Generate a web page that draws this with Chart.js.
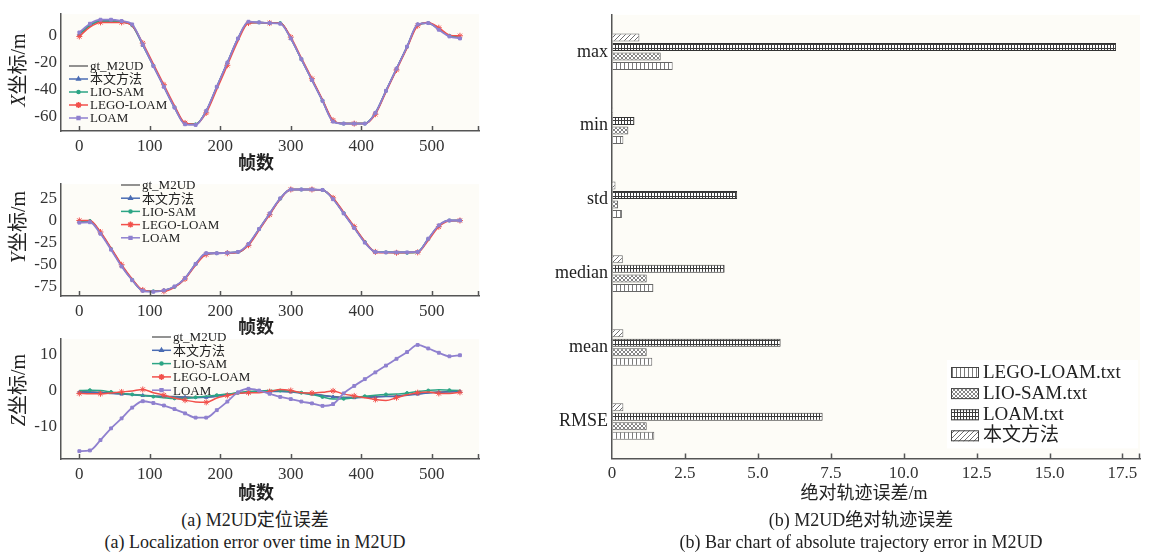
<!DOCTYPE html>
<html>
<head>
<meta charset="utf-8">
<script src="https://cdn.jsdelivr.net/npm/chart.js@4.4.1/dist/chart.umd.min.js"></script>
<style>
  body { margin: 0; background: #fff; width: 1152px; height: 554px; position: relative; overflow: hidden;
         font-family: 'Liberation Serif', 'Noto Sans CJK SC', serif; color: #222; }
  canvas { position: absolute; }
  .t { position: absolute; white-space: nowrap; line-height: 1; }
  .cap { font-size: 18px; transform: translate(-50%, -50%); }
  .ytitle { font-size: 20px; transform: translate(-50%, -50%) rotate(-90deg); }
  .xtitle { font-size: 18px; font-weight: bold; transform: translate(-50%, -50%); }
  .btitle { font-size: 18px; transform: translate(-50%, -50%); }
</style>
</head>
<body>
<canvas id="cx" width="540" height="175" style="left:0;top:0"></canvas>
<canvas id="cy" width="540" height="170" style="left:0;top:170px"></canvas>
<canvas id="cz" width="540" height="180" style="left:0;top:325px"></canvas>
<canvas id="cb" width="612" height="505" style="left:540px;top:0"></canvas>

<div class="t ytitle" style="left:18px;top:70px"><i>X</i>坐标/m</div>
<div class="t ytitle" style="left:18px;top:227px"><i>Y</i>坐标/m</div>
<div class="t ytitle" style="left:18px;top:390px"><i>Z</i>坐标/m</div>
<div class="t xtitle" style="left:256px;top:163px">帧数</div>
<div class="t xtitle" style="left:256px;top:327px">帧数</div>
<div class="t xtitle" style="left:256px;top:493px">帧数</div>
<div class="t btitle" style="left:864px;top:493px">绝对轨迹误差/m</div>
<div class="t cap" style="left:255px;top:520px">(a) M2UD定位误差</div>
<div class="t cap" style="left:255px;top:542px">(a) Localization error over time in M2UD</div>
<div class="t cap" style="left:861px;top:520px">(b) M2UD绝对轨迹误差</div>
<div class="t cap" style="left:861px;top:542px">(b) Bar chart of absolute trajectory error in M2UD</div>

<script>
const FONT = "'Liberation Serif', 'Noto Sans CJK SC', serif";
Chart.defaults.font.family = FONT;
Chart.defaults.color = '#333';

// frame index shared by all trajectory series
const frames = [0, 15, 30, 45, 60, 75, 90, 105, 120, 135, 150, 165, 180, 195, 210, 225, 240, 255,
  270, 285, 300, 315, 330, 345, 360, 375, 390, 405, 420, 435, 450, 465, 480, 495, 510, 525, 540];
const frameTicks = [0, 100, 200, 300, 400, 500];

// X coordinate
const xGt   = [1.5, 8, 11, 11, 10.5, 8, -6.5, -22, -37.5, -53, -65.5, -66, -56.5, -38.5, -20.5, -2.5, 10, 10, 9.5, 9.5, -1.8, -17.3, -32.7, -48.2, -63.5, -65.5, -65.5, -65.5, -57.8, -41.3, -24.8, -8.3, 8, 9.5, 5, 0, -1.5];
const xOurs = [1, 7.5, 11, 11, 10.5, 7.5, -7, -22.5, -38, -53.5, -65.5, -66, -56, -38, -20, -2, 10, 10, 9.5, 9.5, -2, -17.5, -33, -48.5, -63.8, -65.5, -65.5, -65.5, -57.5, -41, -24.5, -8, 8.3, 9.5, 5, 0, -1.5];
const xLio  = [1.2, 7.8, 11, 11, 10.3, 7.8, -6.8, -22.2, -37.8, -53.2, -65.5, -66, -56.2, -38.2, -20.2, -2.2, 10, 10, 9.5, 9.5, -1.9, -17.4, -32.8, -48.3, -63.6, -65.5, -65.5, -65.5, -57.6, -41.2, -24.6, -8.2, 8.1, 9.5, 5, 0, -1.5];
const xLego = [-0.5, 6.5, 10, 10, 10, 7.5, -5.5, -21, -36.5, -52, -65, -66, -57.5, -40, -22, -4, 9.5, 10, 9.5, 9.5, -1, -16.5, -32, -47.5, -63, -65.5, -65.5, -65.5, -58.5, -42, -25.5, -9, 7.5, 10, 6, 0.5, 0];
const xLoam = [2.5, 9, 12, 12, 11, 8.5, -6.5, -22.5, -38, -53.5, -66, -66.5, -56, -38, -20, -2, 10.5, 10, 9.5, 9, -2, -17.5, -33, -48.5, -64, -65.5, -65.5, -65.5, -57.5, -41, -24.5, -8, 8.5, 9.5, 4.5, -0.5, -2];

// Y coordinate
const yGt   = [-2, -1, -14, -32, -51, -67, -79, -80, -79, -75, -65.5, -49.5, -37.5, -37, -36.5, -36, -27, -9.8, 7.5, 24.7, 35, 35, 35, 34.5, 24.7, 8.4, -7.9, -24.2, -35.5, -36, -36, -36, -35.5, -21, -6, 0, 0];
const yOurs = [-1, -0.5, -14, -32, -51, -67, -79, -80, -79, -75, -65, -49, -37.5, -37, -36.5, -36, -27, -10, 7.5, 24.5, 35, 35, 35, 34.5, 24.5, 8.2, -8, -24.3, -35.5, -36, -36, -36, -35.5, -21, -6, 0, 0];
const yLio  = [-1, -0.5, -14, -32, -51, -67, -79, -80, -79, -75, -65.5, -49.5, -37.5, -37, -36.5, -35.5, -27, -9.8, 7.5, 24.7, 35, 35, 35, 34.5, 24.7, 8.4, -7.9, -24.2, -35.5, -36, -36.5, -36.5, -35.5, -21, -6, 0, 0];
const yLego = [0, 0, -13, -31, -50, -66, -78.5, -80, -80, -75.5, -66, -50.5, -38.5, -37, -37, -36, -28, -11, 6.5, 24, 35, 35, 35, 34.5, 25.5, 9.5, -7, -23.5, -35.5, -36.5, -36.5, -36.5, -36, -22.5, -7, -0.5, 0];
const yLoam = [-2.5, -2, -15, -33, -52, -67.5, -79.5, -80.5, -79, -74.5, -65, -49, -37, -37, -36.5, -35.5, -26.5, -9.5, 8, 25, 35, 35, 35, 34.5, 24, 8, -8.5, -25, -35.5, -36, -36, -36, -35.5, -20.5, -5.5, 0, 0];

// Z coordinate
const zGt   = [-0.3, -0.4, -0.5, -0.7, -0.9, -1.1, -1.3, -1.5, -1.6, -1.7, -1.8, -1.9, -1.8, -1.5, -1.1, -0.7, -0.4, -0.2, -0.2, -0.2, -0.3, -0.6, -0.9, -1.3, -1.7, -1.9, -1.9, -1.8, -1.7, -1.6, -1.5, -1.2, -0.9, -0.6, -0.4, -0.3, -0.2];
const zOurs = [-0.5, -0.5, -0.6, -0.8, -1, -1.2, -1.4, -1.6, -1.7, -1.8, -1.9, -2, -1.9, -1.6, -1.2, -0.8, -0.5, -0.3, -0.3, -0.3, -0.4, -0.7, -1, -1.4, -1.8, -2, -2, -1.9, -1.8, -1.7, -1.6, -1.3, -1, -0.7, -0.5, -0.4, -0.3];
const zLio  = [0, 0.1, 0, -0.4, -0.8, -1.1, -1.4, -1.7, -2, -2.2, -2.2, -1.9, -1.6, -1.3, -1, -0.6, -0.3, -0.1, 0, 0, -0.2, -0.6, -1.1, -1.8, -2.4, -2.3, -2, -1.6, -1.3, -1.1, -1, -0.7, -0.3, 0, 0.2, 0.1, 0];
const zLego = [-0.8, -0.9, -0.9, -0.7, -0.4, -0.1, 0.3, -0.6, -1.3, -2.1, -2.7, -3.2, -3.3, -2.1, -1.4, -0.8, -0.6, -0.6, -0.3, 0.3, 0, -0.6, -0.7, -0.5, -0.1, -1, -1.5, -2, -2.5, -2.8, -2, -1.2, -0.6, -0.4, -0.8, -0.8, -0.5];
const zLoam = [-17, -16.8, -13.9, -10.6, -7.8, -4.8, -3, -3.5, -4.2, -5.2, -6.4, -7.6, -7.6, -5.5, -3.1, -0.5, 0.5, 0, -0.9, -1.8, -2.4, -3.1, -3.6, -4.3, -3.8, -0.8, 1.3, 3.2, 5.1, 7, 8.9, 10.8, 12.8, 11.8, 10.6, 9.6, 9.9];

// absolute trajectory error
const metrics = ['max', 'min', 'std', 'median', 'mean', 'RMSE'];
const ateOurs = [0.94, 0.04, 0.12, 0.37, 0.39, 0.39];
const ateLoam = [17.28, 0.77, 4.29, 3.86, 5.78, 7.22];
const ateLio  = [1.67, 0.56, 0.21, 1.19, 1.19, 1.19];
const ateLego = [2.08, 0.39, 0.34, 1.42, 1.38, 1.45];
const ateTicks = [0, 2.5, 5, 7.5, 10, 12.5, 15, 17.5];

const AXIS = '#555';

const plotBg = {
  id: 'plotBg',
  beforeDraw(chart) {
    const { ctx, chartArea: a } = chart;
    ctx.save();
    ctx.fillStyle = '#fdfcf7';
    ctx.fillRect(a.left, a.top, a.right - a.left, a.bottom - a.top);
    ctx.restore();
  }
};

// tick marks point up into the plot, plus a cap at the right end
const innerTicks = {
  id: 'innerTicks',
  afterDraw(chart) {
    const { ctx, chartArea: a } = chart;
    const sx = chart.scales.x;
    ctx.save();
    ctx.strokeStyle = AXIS;
    ctx.lineWidth = 1.5;
    ctx.beginPath();
    sx.ticks.forEach(t => {
      const px = Math.round(sx.getPixelForValue(t.value)) + 0.5;
      if (px < a.left + 2) return;
      ctx.moveTo(px, a.bottom);
      ctx.lineTo(px, a.bottom - 5);
    });
    ctx.moveTo(a.right - 0.5, a.bottom);
    ctx.lineTo(a.right - 0.5, a.bottom - 5);
    ctx.stroke();
    ctx.restore();
  }
};

const lineLegend = {
  id: 'lineLegend',
  afterDraw(chart, args, opts) {
    const { ctx } = chart;
    ctx.save();
    ctx.font = '13px ' + FONT;
    ctx.textBaseline = 'middle';
    chart.data.datasets.forEach((ds, i) => {
      const y = opts.y + i * opts.step;
      ctx.strokeStyle = ds.borderColor;
      ctx.fillStyle = ds.borderColor;
      ctx.lineWidth = 1.5;
      ctx.beginPath();
      ctx.moveTo(opts.x, y);
      ctx.lineTo(opts.x + 19, y);
      ctx.stroke();
      if (ds.markerSize) {
        Chart.helpers.drawPoint(ctx, { pointStyle: ds.pointStyle, rotation: 0, radius: ds.markerSize, borderWidth: 1 }, opts.x + 9.5, y);
      }
      ctx.fillStyle = '#222';
      ctx.fillText(ds.label, opts.x + 21, y + 1);
    });
    ctx.restore();
  }
};

function series(label, values, color, style, size, every, phase, order, width) {
  return {
    label: label,
    data: frames.map((f, k) => ({ x: f, y: values[k] })),
    borderColor: color,
    backgroundColor: color,
    pointBorderColor: color,
    pointBackgroundColor: color,
    borderWidth: width,
    pointStyle: style,
    markerSize: size,
    pointRadius: ctx => (size && ctx.dataIndex % every === phase ? size : 0),
    pointBorderWidth: 1,
    cubicInterpolationMode: 'monotone',
    order: order
  };
}

function trajectoryChart(id, vals, cfg) {
  const datasets = [
    series('gt_M2UD', vals[0], '#6e6e6e', 'circle', 0, 1, 0, 4, 1.5),
    series('本文方法', vals[1], '#4a6cb3', 'triangle', 2, 2, 0, 3, 1.5),
    series('LIO-SAM', vals[2], '#2ca585', 'circle', 1.5, 2, 1, 2, 1.5),
    series('LEGO-LOAM', vals[3], '#f2504b', 'star', 3, 2, 0, 1, 1.5),
    series('LOAM', vals[4], '#8f80cf', 'rect', 2, 1, 0, 0, 1.8)
  ];
  return new Chart(document.getElementById(id), {
    type: 'line',
    data: { datasets: datasets },
    options: {
      responsive: false,
      animation: false,
      events: [],
      layout: { padding: { top: cfg.padTop, right: 61, left: 0, bottom: 0 } },
      scales: {
        x: {
          type: 'linear', min: -26, max: 567,
          afterBuildTicks: axis => { axis.ticks = frameTicks.map(v => ({ value: v })); },
          afterFit: axis => { axis.height = cfg.xAxisH; },
          grid: { drawOnChartArea: false, drawTicks: false },
          border: { color: AXIS, width: 1.5 },
          ticks: { font: { size: 17 }, color: '#333', padding: 5, maxRotation: 0 }
        },
        y: {
          min: cfg.yMin, max: cfg.yMax,
          afterBuildTicks: axis => { axis.ticks = cfg.yTicks.map(v => ({ value: v })); },
          afterFit: axis => { axis.width = 61; },
          grid: { drawOnChartArea: false, drawTicks: false },
          border: { color: AXIS, width: 1.5 },
          ticks: { font: { size: 17 }, color: '#333', padding: 4 }
        }
      },
      plugins: {
        legend: { display: false },
        tooltip: { enabled: false },
        lineLegend: cfg.legend
      }
    },
    plugins: [plotBg, innerTicks, lineLegend]
  });
}

trajectoryChart('cx', [xGt, xOurs, xLio, xLego, xLoam], {
  padTop: 10, xAxisH: 44, yMin: -71, yMax: 16.1, yTicks: [0, -20, -40, -60],
  legend: { x: 69, y: 66, step: 13 }
});
trajectoryChart('cy', [yGt, yOurs, yLio, yLego, yLoam], {
  padTop: 5, xAxisH: 44, yMin: -85.3, yMax: 41, yTicks: [25, 0, -25, -50, -75],
  legend: { x: 121, y: 15, step: 13.2 }
});
trajectoryChart('cz', [zGt, zOurs, zLio, zLego, zLoam], {
  padTop: 14, xAxisH: 46, yMin: -19.2, yMax: 14.4, yTicks: [10, 0, -10],
  legend: { x: 152, y: 12, step: 13.3 }
});

// hatch fills for the bars
function pattern(w, h, draw) {
  const c = document.createElement('canvas');
  c.width = w; c.height = h;
  const g = c.getContext('2d');
  g.fillStyle = '#fff';
  g.fillRect(0, 0, w, h);
  draw(g);
  return g.createPattern(c, 'repeat');
}
const hatchDiag = pattern(5, 5, g => {
  g.strokeStyle = '#707070'; g.lineWidth = 1;
  g.beginPath();
  g.moveTo(0, 5); g.lineTo(5, 0);
  g.moveTo(-1, 1); g.lineTo(1, -1);
  g.moveTo(4, 6); g.lineTo(6, 4);
  g.stroke();
});
const hatchGrid = pattern(3, 4, g => {
  g.fillStyle = '#3c3c3c';
  g.fillRect(0, 0, 1, 4);
  g.fillRect(0, 0, 3, 1);
});
const hatchCross = pattern(4, 4, g => {
  g.strokeStyle = '#858585'; g.lineWidth = 1;
  g.beginPath();
  g.moveTo(0, 0); g.lineTo(4, 4);
  g.moveTo(0, 4); g.lineTo(4, 0);
  g.stroke();
});
const hatchVert = pattern(4, 1, g => {
  g.fillStyle = '#7a7a7a';
  g.fillRect(0, 0, 1, 1);
});

const BAR_LEFT = 540;

const barLegend = {
  id: 'barLegend',
  afterDraw(chart, args, opts) {
    const { ctx } = chart;
    const x = opts.x - BAR_LEFT;
    ctx.save();
    ctx.fillStyle = '#fff';
    ctx.fillRect(x - 4, opts.y - 12, chart.chartArea.right - x + 2, opts.step * 4 + 4);
    ctx.font = '19px ' + FONT;
    ctx.textBaseline = 'middle';
    opts.order.forEach((idx, i) => {
      const ds = chart.data.datasets[idx];
      const y = opts.y + i * opts.step;
      ctx.fillStyle = ds.backgroundColor;
      ctx.fillRect(x, y - 5, 28, 11);
      ctx.strokeStyle = '#444';
      ctx.lineWidth = 1;
      ctx.strokeRect(x + 0.5, y - 4.5, 27, 10);
      ctx.fillStyle = '#222';
      ctx.fillText(ds.label, x + 32, y + 1);
    });
    ctx.restore();
  }
};

new Chart(document.getElementById('cb'), {
  type: 'bar',
  data: {
    labels: metrics,
    datasets: [
      { label: '本文方法', data: ateOurs, backgroundColor: hatchDiag, borderColor: '#666', borderWidth: 1 },
      { label: 'LOAM.txt', data: ateLoam, backgroundColor: hatchGrid, borderColor: '#333', borderWidth: 1 },
      { label: 'LIO-SAM.txt', data: ateLio, backgroundColor: hatchCross, borderColor: '#555', borderWidth: 1 },
      { label: 'LEGO-LOAM.txt', data: ateLego, backgroundColor: hatchVert, borderColor: '#666', borderWidth: 1 }
    ]
  },
  options: {
    indexAxis: 'y',
    responsive: false,
    animation: false,
    events: [],
    categoryPercentage: 0.515,
    barPercentage: 0.84,
    layout: { padding: { top: 13, right: 12, left: 0, bottom: 0 } },
    scales: {
      x: {
        min: 0, max: 18.1,
        afterBuildTicks: axis => { axis.ticks = ateTicks.map(v => ({ value: v })); },
        afterFit: axis => { axis.height = 46.5; },
        grid: { drawOnChartArea: false, drawTicks: false },
        border: { color: AXIS, width: 1.5 },
        ticks: { font: { size: 17 }, color: '#333', padding: 5, maxRotation: 0,
                 callback: v => (v === 0 ? '0' : v.toFixed(1)) }
      },
      y: {
        afterFit: axis => { axis.width = 72; },
        grid: { drawOnChartArea: false, drawTicks: false },
        border: { color: AXIS, width: 1.5 },
        ticks: { font: { size: 18 }, color: '#222', padding: 4 }
      }
    },
    plugins: {
      legend: { display: false },
      tooltip: { enabled: false },
      barLegend: { x: 951, y: 372, step: 21.1, order: [3, 2, 1, 0] }
    }
  },
  plugins: [plotBg, innerTicks, barLegend]
});
</script>
</body>
</html>
